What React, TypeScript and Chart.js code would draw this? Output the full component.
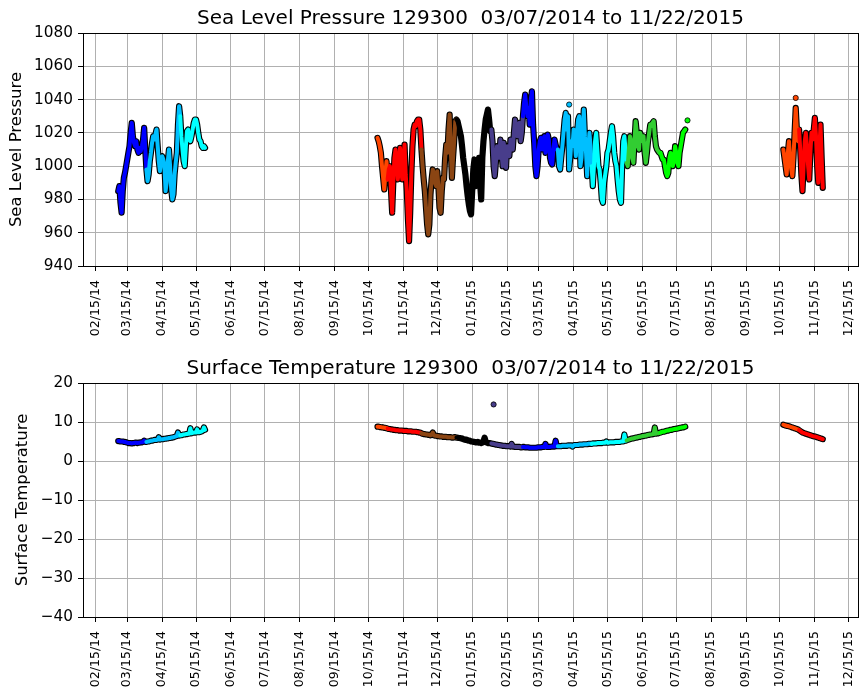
import { useEffect, useRef } from 'react';
import { Chart, registerables } from 'chart.js';

Chart.register(...registerables);

// ---------------- data ----------------
const xTickLabels = [
  '02/15/14', '03/15/14', '04/15/14', '05/15/14', '06/15/14', '07/15/14', '08/15/14', '09/15/14',
  '10/15/14', '11/15/14', '12/15/14', '01/15/15', '02/15/15', '03/15/15', '04/15/15', '05/15/15',
  '06/15/15', '07/15/15', '08/15/15', '09/15/15', '10/15/15', '11/15/15', '12/15/15',
];
const pressureTicks = [940, 960, 980, 1000, 1020, 1040, 1060, 1080];
const temperatureTicks = [-40, -30, -20, -10, 0, 10, 20];

// first day of each daily series
const segmentStarts = ['2014-03-07', '2014-10-23', '2015-10-18'];

// Sea level pressure (daily)
const pressureSpring2014 = [
  985, 988, 978, 972, 985, 993, 996, 1000, 1004, 1008, 1012, 1020, 1026, 1018, 1014, 1012, 1015, 1010, 1008, 1011,
  1009, 1012, 1016, 1023, 1010,
  998, 991, 995, 1003, 1008, 1014, 1018, 1016, 1019, 1022, 1012, 1003, 997, 1002, 1006, 1004, 1000, 985, 990, 1003,
  1010, 1000, 986, 980, 983, 995, 1002, 1008, 1025, 1036,
  1030, 1018, 1010, 1003, 1000, 1012, 1021, 1022, 1016, 1015, 1018, 1022, 1026, 1028, 1028, 1025, 1020, 1016, 1015,
  1012, 1011, 1012, 1011,
];
const pressureWinter2015 = [
  1017, 1015, 1012, 1008, 1000, 993, 986, 996, 1003,
  992, 998, 1000, 985, 972, 990, 1005, 1010, 1005, 992, 998, 1011, 998, 992, 1005, 1013, 995, 985, 968, 955, 972, 995,
  1012, 1022, 1025, 1024, 1027, 1028, 1028, 1022,
  1010, 1000, 992, 985, 975, 965, 959, 965, 983, 992, 998, 996, 990, 988, 997, 988, 975, 972, 985, 993, 992, 1005,
  1013, 1008, 1022, 1031, 1010, 993, 1005, 1015, 1027,
  1028, 1027, 1024, 1021, 1018, 1012, 1005, 1000, 995, 988, 982, 977, 973, 971, 985, 998, 1004, 988, 995, 1002, 1005,
  990, 980, 1005, 1015, 1022, 1028, 1031, 1034, 1028, 1021,
  1022, 1015, 1000, 994, 1002, 1012, 1010, 1005, 1016, 1008, 1000, 1014, 1005, 999, 1012, 1008, 1006, 1016, 1012,
  1010, 1020, 1028, 1025, 1018, 1022, 1026, 1015, 1020,
  1030, 1038, 1043, 1036, 1030, 1035, 1025, 1040, 1045, 1025, 1014, 1000, 994, 1000, 1010, 1015, 1017, 1010, 1012,
  1018, 1008, 1012, 1019, 1016, 1005, 1002, 1001, 1010, 1016, 1013, 1010,
  1010, 1000, 998, 1005, 1012, 1020, 1028, 1032, 1022, 1030, 998, 1005, 1015, 1012, 1022, 1015, 1006, 1020, 1028,
  1030, 1000, 1005, 1020, 1034, 1018, 1008, 994, 1010, 1020, 1012,
  1000, 988, 1000, 1015, 1020, 1010, 1000, 998, 990, 980, 978, 990, 995, 1000, 1008, 1010, 1015, 1020, 1024, 1018,
  1008, 1003, 1000, 992, 985, 980, 978, 1000, 1015, 1018, 1010,
  1002, 1000, 1010, 1018, 1015, 1005, 1002, 1015, 1027, 1020, 1012, 1010, 1020, 1018, 1015, 1018, 1008, 1002, 1008,
  1015, 1020, 1025, 1024, 1026, 1027, 1018, 1012, 1010, 1009, 1008,
  1008, 1006, 1004, 1004, 1000, 996, 994, 996, 1005, 1008, 1004, 1000, 1004, 1012, 1008, 1002, 1000, 1008, 1012,
  1016, 1020, 1021, 1022,
];
const pressureFall2015 = [
  1010, 1005, 1000, 995, 1008, 1015, 1005, 998, 994, 1005, 1020, 1035, 1022, 1015,
  1022, 1010, 995, 985, 1000, 1015, 1020, 1012, 1000, 992, 1008, 1020, 1016, 1022, 1029, 1018, 1000, 990, 1010,
  1025, 1005, 987,
];
const pressureOutlierDates = ['2015-04-11', '2015-07-25', '2015-10-29'];
const pressureOutlierValues = [1037, 1027.5, 1041];

// Surface temperature (daily)
const temperatureSpring2014 = [
  5.1, 5.1, 5.0, 5.0, 5.0, 4.9, 4.9, 4.8, 4.7, 4.6, 4.6, 4.6, 4.5, 4.6, 4.6, 4.7, 4.7, 4.6, 4.7, 4.7, 4.8, 4.8, 4.9,
  5.2, 4.9,
  4.9, 5.0, 5.0, 5.1, 5.2, 5.2, 5.3, 5.4, 5.4, 5.4, 5.5, 6.1, 5.5, 5.6, 5.6, 5.6, 5.7, 5.7, 5.8, 5.8, 5.9, 5.9, 6.0,
  6.0, 6.1, 6.2, 6.3, 6.4, 7.3, 6.5,
  6.6, 6.6, 6.7, 6.8, 6.8, 6.9, 6.9, 7.0, 7.0, 8.4, 7.1, 7.2, 7.3, 7.3, 7.3, 8.1, 7.4, 7.4, 7.5, 7.6, 7.8, 8.6, 8.0,
];
const temperatureWinter2015 = [
  8.8, 8.8, 8.7, 8.7, 8.6, 8.6, 8.5, 8.5, 8.4,
  8.3, 8.2, 8.2, 8.1, 8.1, 8.0, 8.0, 7.9, 7.9, 7.9, 7.8, 7.8, 7.8, 7.8, 7.7, 7.7, 7.7, 7.7, 7.6, 7.6, 7.6, 7.6, 7.5,
  7.5, 7.5, 7.5, 7.4, 7.4, 7.3, 7.3,
  7.1, 7.0, 6.9, 6.9, 6.8, 6.8, 6.7, 6.7, 6.6, 6.8, 7.3, 6.6, 6.5, 6.5, 6.4, 6.4, 6.3, 6.3, 6.3, 6.2, 6.2, 6.2, 6.2,
  6.1, 6.1, 6.1, 6.1, 6.0, 6.0, 6.1, 6.1,
  6.0, 6.0, 5.9, 5.9, 5.8, 5.8, 5.6, 5.5, 5.4, 5.5, 5.3, 5.2, 5.2, 5.0, 5.0, 4.9, 4.9, 4.8, 4.8, 4.9, 4.7, 4.7, 4.6,
  4.7, 5.1, 6.0, 5.0, 4.7, 4.6, 4.6, 4.6,
  4.5, 4.4, 4.4, 4.3, 4.2, 4.2, 4.1, 4.1, 4.0, 4.0, 3.9, 3.9, 3.9, 3.8, 3.8, 3.8, 3.8, 3.7, 4.4, 3.7, 3.7, 3.6, 3.6,
  3.6, 3.6, 3.6, 3.5, 3.5,
  3.6, 3.6, 3.5, 3.5, 3.5, 3.5, 3.4, 3.4, 3.4, 3.4, 3.4, 3.4, 3.4, 3.5, 3.5, 3.5, 3.5, 3.6, 3.6, 3.6, 4.4, 3.6, 3.6,
  3.6, 3.6, 3.7, 3.7, 3.7, 3.7, 5.2, 3.8,
  3.8, 3.8, 3.8, 3.8, 3.9, 3.9, 3.9, 3.9, 3.9, 4.0, 4.0, 4.0, 4.0, 3.7, 4.0, 4.1, 4.1, 4.1, 4.1, 4.2, 4.2, 4.2, 4.2,
  4.3, 4.3, 4.3, 4.3, 4.4, 4.4, 4.4,
  4.4, 4.5, 4.5, 4.5, 4.5, 4.6, 4.6, 4.6, 4.6, 4.6, 4.7, 4.7, 4.7, 5.0, 4.7, 4.7, 4.8, 4.8, 4.8, 4.8, 4.8, 4.9, 4.9,
  4.9, 4.9, 4.9, 5.0, 5.0, 5.0, 6.8, 5.2,
  5.3, 5.4, 5.5, 5.6, 5.7, 5.8, 5.8, 5.9, 6.0, 6.0, 6.1, 6.2, 6.2, 6.3, 6.4, 6.4, 6.5, 6.5, 6.6, 6.7, 6.7, 6.8, 6.8,
  6.9, 6.9, 8.6, 7.0, 7.1, 7.1, 7.2,
  7.3, 7.4, 7.5, 7.5, 7.6, 7.7, 7.8, 7.8, 7.9, 8.0, 8.0, 8.1, 8.2, 8.2, 8.3, 8.3, 8.4, 8.5, 8.5, 8.6, 8.6, 8.7, 8.8,
];
const temperatureFall2015 = [
  9.3, 9.2, 9.1, 9.0, 9.0, 8.9, 8.8, 8.7, 8.6, 8.5, 8.4, 8.3, 8.2, 8.1,
  7.9, 7.7, 7.5, 7.3, 7.2, 7.1, 7.0, 6.9, 6.8, 6.7, 6.6, 6.5, 6.4, 6.3, 6.3, 6.2, 6.1, 6.0, 5.9, 5.8, 5.7, 5.6,
];
const temperatureOutlierDates = ['2015-02-03'];
const temperatureOutlierValues = [14.5];

// ---------------- styling / helpers ----------------
const monthColors = [
  '#000000', '#483D8B', '#0000FF', '#00BFFF', '#00FFFF', '#32CD32',
  '#00FF00', '#FFFF00', '#FFA500', '#FF4500', '#FF0000', '#8B4513',
];
const DAY = 86400000;
const toMs = (s: string) => {
  const [y, m, d] = s.split('-').map(Number);
  return Date.UTC(y, m - 1, d);
};
const tickLabelToMs = (s: string) => {
  const [m, d, y] = s.split('/').map(Number);
  return Date.UTC(2000 + y, m - 1, d);
};
const monthColor = (ms: number) => monthColors[new Date(ms).getUTCMonth()];
const xTickValues = xTickLabels.map(tickLabelToMs);
const X_MIN = toMs('2014-03-07') - 31.25 * DAY;
const X_MAX = toMs('2015-11-22') + 31.25 * DAY;

const alignPx = (chart: any, px: number, w: number) => {
  const dpr = chart.currentDevicePixelRatio || 1;
  const h = w / 2;
  return Math.round((px - h) * dpr) / dpr + h;
};

const framePlugin = {
  id: 'frame',
  afterDraw(chart: any) {
    const { ctx, chartArea: a } = chart;
    const l = alignPx(chart, a.left, 1);
    const r = alignPx(chart, a.right, 1);
    const t = alignPx(chart, a.top, 1);
    const b = alignPx(chart, a.bottom, 1);
    ctx.save();
    ctx.strokeStyle = '#000';
    ctx.lineWidth = 1;
    ctx.strokeRect(l, t, r - l, b - t);
    ctx.restore();
  },
};

const fmtNum = (v: number) => (v < 0 ? '\u2212' + Math.abs(v) : String(v));

function makeConfig(
  title: string,
  yLabel: string,
  yTicks: number[],
  series: number[][],
  outDates: string[],
  outValues: number[],
  yTitlePad: number,
  xAxisHeight: number,
): any {
  const datasets: any[] = [];
  series.forEach((vals, k) => {
    const t0 = toMs(segmentStarts[k]);
    const pts = vals.map((v, i) => ({ x: t0 + i * DAY, y: v }));
    datasets.push({
      data: pts,
      borderColor: '#000',
      borderWidth: 6.2,
      pointRadius: 0,
      tension: 0,
      borderJoinStyle: 'round',
      borderCapStyle: 'round',
      order: 3,
    });
    datasets.push({
      data: pts,
      borderColor: monthColor(t0),
      segment: { borderColor: (c: any) => monthColor(pts[c.p0DataIndex].x) },
      borderWidth: 4,
      pointRadius: 0,
      tension: 0,
      borderJoinStyle: 'round',
      borderCapStyle: 'round',
      order: 2,
    });
  });
  const outPts = outDates.map((d, i) => ({ x: toMs(d), y: outValues[i] }));
  datasets.push({
    data: outPts,
    showLine: false,
    pointRadius: 2.6,
    pointBorderWidth: 0.8,
    pointBorderColor: '#000',
    pointBackgroundColor: outPts.map((p) => monthColor(p.x)),
    order: 1,
  });

  return {
    type: 'line',
    data: { datasets },
    options: {
      animation: false,
      responsive: false,
      maintainAspectRatio: false,
      layout: { padding: { left: 0, right: 9, top: 0, bottom: 0 } },
      plugins: {
        legend: { display: false },
        tooltip: { enabled: false },
        title: {
          display: true,
          text: title,
          fullSize: false,
          color: '#000',
          font: { size: 20, weight: 'normal' },
          padding: { top: 7, bottom: 2 },
        },
      },
      scales: {
        x: {
          type: 'linear',
          min: X_MIN,
          max: X_MAX,
          afterBuildTicks: (s: any) => {
            s.ticks = xTickValues.map((v) => ({ value: v }));
          },
          afterFit: (s: any) => {
            s.height = xAxisHeight;
            s.paddingLeft = 0;
            s.paddingRight = 0;
          },
          ticks: {
            autoSkip: false,
            minRotation: 90,
            maxRotation: 90,
            padding: 9,
            color: '#000',
            font: { size: 12.5 },
            callback: (_v: any, i: number) => xTickLabels[i],
          },
          grid: { color: '#b0b0b0', lineWidth: 1, tickColor: '#000', tickLength: 5, drawTicks: true },
          border: { display: true, color: '#000', width: 1 },
        },
        y: {
          type: 'linear',
          min: yTicks[0],
          max: yTicks[yTicks.length - 1],
          afterFit: (s: any) => {
            s.width = 83;
            s.paddingTop = 0;
            s.paddingBottom = 0;
          },
          ticks: {
            stepSize: yTicks[1] - yTicks[0],
            padding: 5,
            color: '#000',
            font: { size: 15.3 },
            callback: (v: any) => fmtNum(Number(v)),
          },
          title: {
            display: true,
            text: yLabel,
            color: '#000',
            font: { size: 16.5 },
            padding: { top: yTitlePad, bottom: 0 },
          },
          grid: { color: '#b0b0b0', lineWidth: 1, tickColor: '#000', tickLength: 5, drawTicks: true },
          border: { display: true, color: '#000', width: 1 },
        },
      },
    },
    plugins: [framePlugin],
  };
}

export default function App() {
  const topRef = useRef<HTMLCanvasElement>(null);
  const botRef = useRef<HTMLCanvasElement>(null);

  useEffect(() => {
    Chart.defaults.font.family = "'DejaVu Sans', 'Liberation Sans', sans-serif";
    Chart.defaults.color = '#000';
    const c1 = new Chart(
      topRef.current as HTMLCanvasElement,
      makeConfig(
        'Sea Level Pressure 129300  03/07/2014 to 11/22/2015',
        'Sea Level Pressure',
        pressureTicks,
        [pressureSpring2014, pressureWinter2015, pressureFall2015],
        pressureOutlierDates,
        pressureOutlierValues,
        6.6,
        84,
      ),
    );
    const c2 = new Chart(
      botRef.current as HTMLCanvasElement,
      makeConfig(
        'Surface Temperature 129300  03/07/2014 to 11/22/2015',
        'Surface Temperature',
        temperatureTicks,
        [temperatureSpring2014, temperatureWinter2015, temperatureFall2015],
        temperatureOutlierDates,
        temperatureOutlierValues,
        12.6,
        83,
      ),
    );
    return () => {
      c1.destroy();
      c2.destroy();
    };
  }, []);

  return (
    <div style={{ position: 'absolute', left: 0, top: 0, width: 867, height: 700, background: '#fff' }}>
      <canvas ref={topRef} width={867} height={350} style={{ display: 'block' }} />
      <canvas ref={botRef} width={867} height={350} style={{ display: 'block' }} />
    </div>
  );
}
